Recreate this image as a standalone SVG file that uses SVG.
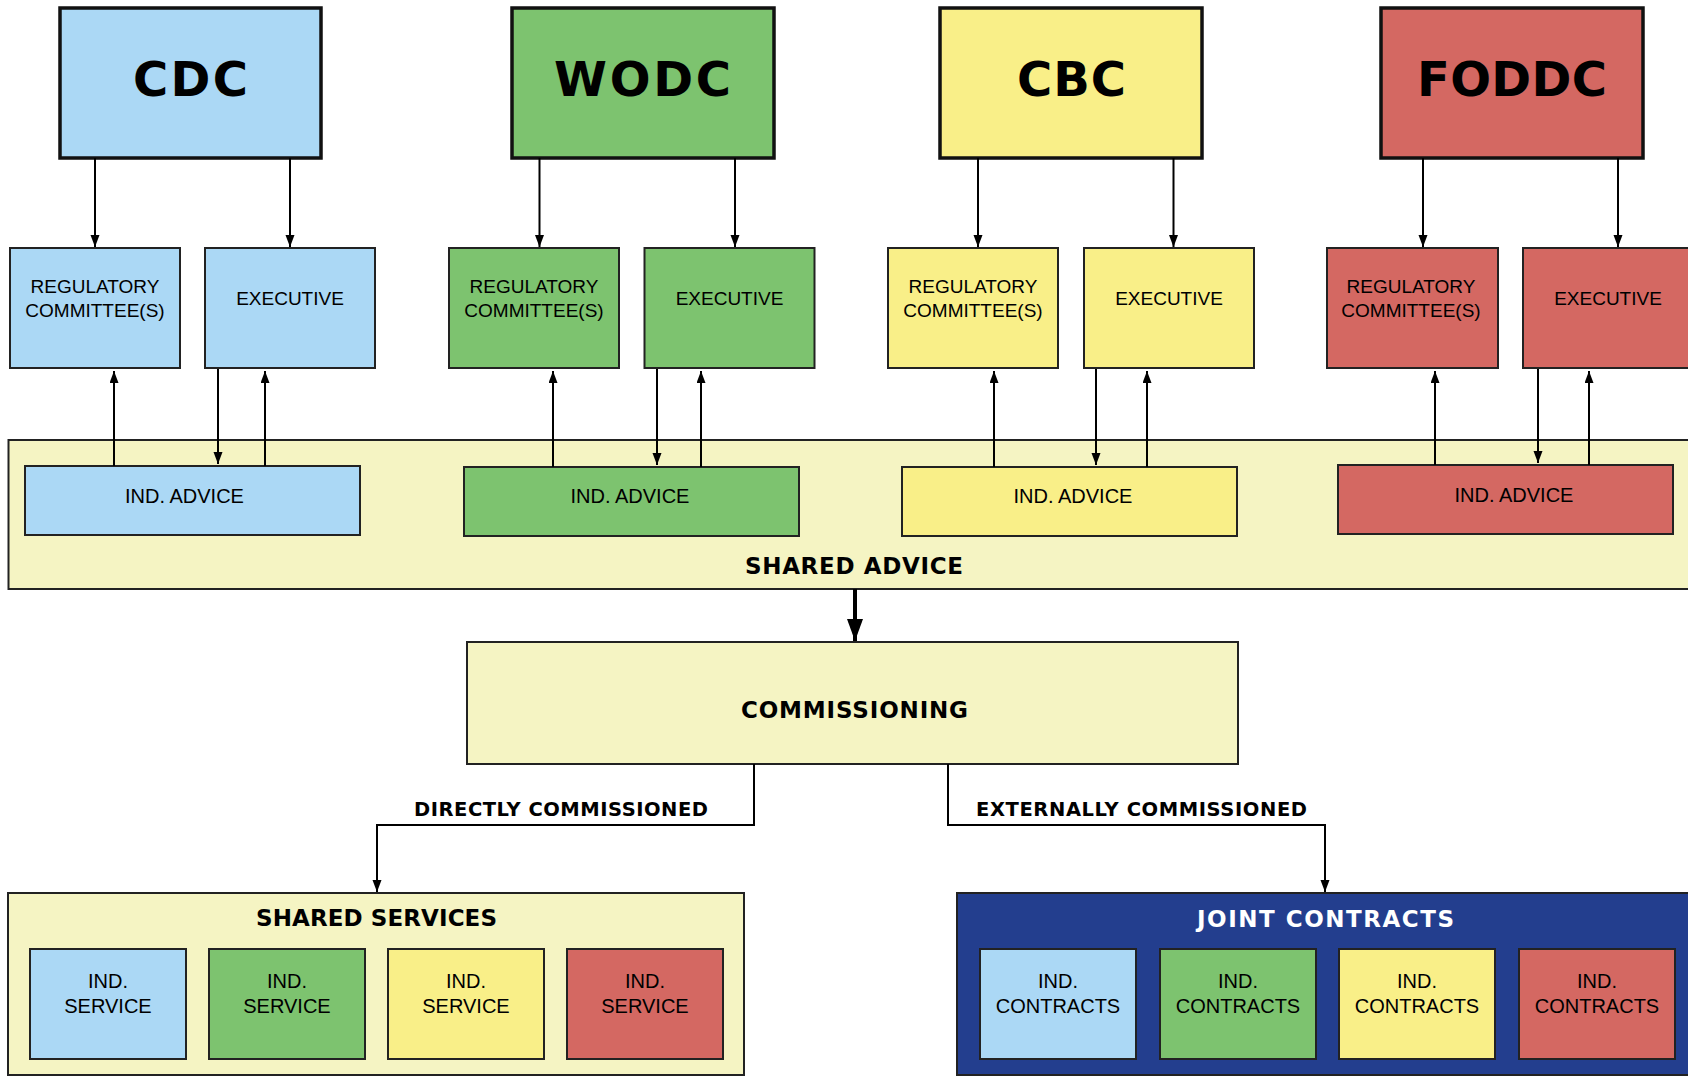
<svg xmlns="http://www.w3.org/2000/svg" width="1688" height="1076" viewBox="0 0 1688 1076">
<defs>
<marker id="ah" markerUnits="userSpaceOnUse" markerWidth="12" markerHeight="10" refX="12" refY="4.5" orient="auto">
<path d="M0,0 L12,4.5 L0,9 z" fill="#000"/>
</marker>
<marker id="ahBig" markerUnits="userSpaceOnUse" markerWidth="24" markerHeight="18" refX="22" refY="8" orient="auto">
<path d="M0,0 L22,8 L0,16 z" fill="#000"/>
</marker>
</defs>
<style>
.top{stroke:#111;stroke-width:3.5}
.box{stroke:#222;stroke-width:2}
.blue{fill:#ABD8F5}
.green{fill:#7DC36F}
.yellow{fill:#F9EF88}
.red{fill:#D46862}
.pale{fill:#F5F4C3}
.navy{fill:#233E8E}
.big{font-family:"DejaVu Sans","Liberation Sans",sans-serif;font-weight:bold;font-size:48px;fill:#000}
.hd{font-family:"DejaVu Sans","Liberation Sans",sans-serif;font-weight:bold;font-size:23px;fill:#000}
.lbl{font-family:"DejaVu Sans","Liberation Sans",sans-serif;font-weight:bold;font-size:19.5px;fill:#000}
.t{font-family:"Liberation Sans",Arial,sans-serif;font-size:19px;fill:#000;text-anchor:middle}
.t2{font-family:"Liberation Sans",Arial,sans-serif;font-size:20px;fill:#000;text-anchor:middle}
.ln{stroke:#000;stroke-width:2;fill:none}
</style>
<rect width="1688" height="1076" fill="#fff"/>

<g id="shared-advice">
<rect class="box pale" x="8.5" y="440" width="1700" height="149"/>
<text class="hd" x="745" y="574" textLength="218" lengthAdjust="spacing">SHARED ADVICE</text>
</g>

<g id="cdc">
<rect class="top blue" x="60" y="8" width="261" height="150"/>
<text class="big" x="133" y="96" textLength="115" lengthAdjust="spacing">CDC</text>
</g>
<g id="wodc">
<rect class="top green" x="512" y="8" width="262" height="150"/>
<text class="big" x="554" y="96" textLength="177" lengthAdjust="spacing">WODC</text>
</g>
<g id="cbc">
<rect class="top yellow" x="940" y="8" width="262" height="150"/>
<text class="big" x="1017" y="96" textLength="109" lengthAdjust="spacing">CBC</text>
</g>
<g id="foddc">
<rect class="top red" x="1381" y="8" width="262" height="150"/>
<text class="big" x="1417" y="96" textLength="190" lengthAdjust="spacing">FODDC</text>
</g>

<g id="cdc-reg">
<rect class="box blue" x="10" y="248" width="170" height="120"/>
<text class="t" x="95" y="292.5">REGULATORY</text>
<text class="t" x="95" y="317">COMMITTEE(S)</text>
</g>
<g id="cdc-exec">
<rect class="box blue" x="205" y="248" width="170" height="120"/>
<text class="t" x="290" y="305">EXECUTIVE</text>
</g>
<g id="wodc-reg">
<rect class="box green" x="449" y="248" width="170" height="120"/>
<text class="t" x="534" y="292.5">REGULATORY</text>
<text class="t" x="534" y="317">COMMITTEE(S)</text>
</g>
<g id="wodc-exec">
<rect class="box green" x="644.5" y="248" width="170" height="120"/>
<text class="t" x="729.5" y="305">EXECUTIVE</text>
</g>
<g id="cbc-reg">
<rect class="box yellow" x="888" y="248" width="170" height="120"/>
<text class="t" x="973" y="292.5">REGULATORY</text>
<text class="t" x="973" y="317">COMMITTEE(S)</text>
</g>
<g id="cbc-exec">
<rect class="box yellow" x="1084" y="248" width="170" height="120"/>
<text class="t" x="1169" y="305">EXECUTIVE</text>
</g>
<g id="foddc-reg">
<rect class="box red" x="1327" y="248" width="171" height="120"/>
<text class="t" x="1411" y="292.5">REGULATORY</text>
<text class="t" x="1411" y="317">COMMITTEE(S)</text>
</g>
<g id="foddc-exec">
<rect class="box red" x="1523" y="248" width="200" height="120"/>
<text class="t" x="1608" y="305">EXECUTIVE</text>
</g>

<g id="cdc-advice">
<rect class="box blue" x="25" y="466" width="335" height="69"/>
<text class="t2" x="184.5" y="503">IND. ADVICE</text>
</g>
<g id="wodc-advice">
<rect class="box green" x="464" y="467" width="335" height="69"/>
<text class="t2" x="630" y="503">IND. ADVICE</text>
</g>
<g id="cbc-advice">
<rect class="box yellow" x="902" y="467" width="335" height="69"/>
<text class="t2" x="1073" y="503">IND. ADVICE</text>
</g>
<g id="foddc-advice">
<rect class="box red" x="1338" y="465" width="335" height="69"/>
<text class="t2" x="1514" y="502">IND. ADVICE</text>
</g>

<g id="commissioning">
<rect class="box pale" x="467" y="642" width="771" height="122"/>
<text class="hd" x="741" y="718" textLength="227" lengthAdjust="spacing">COMMISSIONING</text>
</g>

<g id="shared-services">
<rect class="box pale" x="8" y="893" width="736" height="182"/>
<text class="hd" x="256" y="926" textLength="241" lengthAdjust="spacing">SHARED SERVICES</text>
</g>
<g id="ss-1"><rect class="box blue" x="30" y="949" width="156" height="110"/><text class="t2" x="108" y="988">IND.</text><text class="t2" x="108" y="1012.5">SERVICE</text></g>
<g id="ss-2"><rect class="box green" x="209" y="949" width="156" height="110"/><text class="t2" x="287" y="988">IND.</text><text class="t2" x="287" y="1012.5">SERVICE</text></g>
<g id="ss-3"><rect class="box yellow" x="388" y="949" width="156" height="110"/><text class="t2" x="466" y="988">IND.</text><text class="t2" x="466" y="1012.5">SERVICE</text></g>
<g id="ss-4"><rect class="box red" x="567" y="949" width="156" height="110"/><text class="t2" x="645" y="988">IND.</text><text class="t2" x="645" y="1012.5">SERVICE</text></g>

<g id="joint-contracts">
<rect class="box navy" x="957" y="893" width="760" height="182"/>
<text class="hd" x="1197" y="927" textLength="257" lengthAdjust="spacing" style="fill:#fff">JOINT CONTRACTS</text>
</g>
<g id="jc-1"><rect class="box blue" x="980" y="949" width="156" height="110"/><text class="t2" x="1058" y="988">IND.</text><text class="t2" x="1058" y="1012.5">CONTRACTS</text></g>
<g id="jc-2"><rect class="box green" x="1160" y="949" width="156" height="110"/><text class="t2" x="1238" y="988">IND.</text><text class="t2" x="1238" y="1012.5">CONTRACTS</text></g>
<g id="jc-3"><rect class="box yellow" x="1339" y="949" width="156" height="110"/><text class="t2" x="1417" y="988">IND.</text><text class="t2" x="1417" y="1012.5">CONTRACTS</text></g>
<g id="jc-4"><rect class="box red" x="1519" y="949" width="156" height="110"/><text class="t2" x="1597" y="988">IND.</text><text class="t2" x="1597" y="1012.5">CONTRACTS</text></g>

<g id="connectors">
<line class="ln" x1="95" y1="158" x2="95" y2="247" marker-end="url(#ah)"/>
<line class="ln" x1="290" y1="158" x2="290" y2="247" marker-end="url(#ah)"/>
<line class="ln" x1="539.5" y1="158" x2="539.5" y2="247" marker-end="url(#ah)"/>
<line class="ln" x1="735" y1="158" x2="735" y2="247" marker-end="url(#ah)"/>
<line class="ln" x1="978" y1="158" x2="978" y2="247" marker-end="url(#ah)"/>
<line class="ln" x1="1173.5" y1="158" x2="1173.5" y2="247" marker-end="url(#ah)"/>
<line class="ln" x1="1423" y1="158" x2="1423" y2="247" marker-end="url(#ah)"/>
<line class="ln" x1="1618" y1="158" x2="1618" y2="247" marker-end="url(#ah)"/>

<line class="ln" x1="114" y1="466" x2="114" y2="371" marker-end="url(#ah)"/>
<line class="ln" x1="218" y1="369" x2="218" y2="464" marker-end="url(#ah)"/>
<line class="ln" x1="265" y1="466" x2="265" y2="371" marker-end="url(#ah)"/>
<line class="ln" x1="553" y1="467" x2="553" y2="371" marker-end="url(#ah)"/>
<line class="ln" x1="657" y1="369" x2="657" y2="465" marker-end="url(#ah)"/>
<line class="ln" x1="701" y1="467" x2="701" y2="371" marker-end="url(#ah)"/>
<line class="ln" x1="994" y1="467" x2="994" y2="371" marker-end="url(#ah)"/>
<line class="ln" x1="1096" y1="369" x2="1096" y2="465" marker-end="url(#ah)"/>
<line class="ln" x1="1147" y1="467" x2="1147" y2="371" marker-end="url(#ah)"/>
<line class="ln" x1="1435" y1="465" x2="1435" y2="371" marker-end="url(#ah)"/>
<line class="ln" x1="1538" y1="369" x2="1538" y2="463" marker-end="url(#ah)"/>
<line class="ln" x1="1589" y1="465" x2="1589" y2="371" marker-end="url(#ah)"/>

<line x1="855" y1="589" x2="855" y2="641" stroke="#000" stroke-width="4" marker-end="url(#ahBig)"/>

<polyline class="ln" points="754,764 754,825 377,825 377,892" marker-end="url(#ah)"/>
<polyline class="ln" points="948,764 948,825 1325,825 1325,892" marker-end="url(#ah)"/>
<text class="lbl" x="414" y="816" textLength="294" lengthAdjust="spacing">DIRECTLY COMMISSIONED</text>
<text class="lbl" x="976" y="816" textLength="331" lengthAdjust="spacing">EXTERNALLY COMMISSIONED</text>
</g>
</svg>
